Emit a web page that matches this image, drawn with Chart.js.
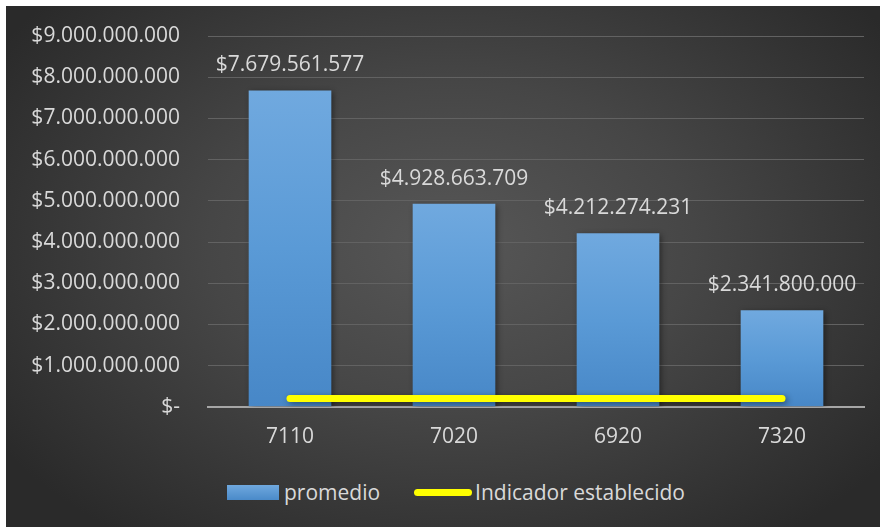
<!DOCTYPE html>
<html>
<head>
<meta charset="utf-8">
<script src="https://cdn.jsdelivr.net/npm/chart.js@4.4.1/dist/chart.umd.min.js"></script>
<style>
    html, body { margin: 0; padding: 0; background: #ffffff; }
    #wrap {
        position: absolute; left: 6px; top: 6px; width: 874px; height: 521px;
        background: radial-gradient(ellipse 62% 70% at 51% 46%, #575757 0%, #464646 45%, #2a2a2a 100%);
        font-family: "Open Sans", Lato, sans-serif;
    }
    #chartBox { position: absolute; left: 0; top: 0; width: 874px; height: 454px; }
    #legend {
        position: absolute; left: 221px; top: 469px; height: 34px;
        display: flex; align-items: center; color: #d9d9d9; font-size: 21px;
    }
    .swatch-bar {
        width: 52px; height: 15px; margin-right: 5px;
        background: linear-gradient(#6fa8de, #4a8ac9);
    }
    .swatch-line {
        width: 58px; height: 7px; border-radius: 4px; background: #ffff00;
        margin-left: 34px; margin-right: 3px;
    }
</style>
</head>
<body>
<div id="wrap">
    <div id="chartBox"><canvas id="chart"></canvas></div>
    <div id="legend">
        <span class="swatch-bar"></span><span id="legendBar"></span>
        <span class="swatch-line"></span><span id="legendLine"></span>
    </div>
</div>
<script>
const categories = ['7110', '7020', '6920', '7320'];
const promedio = [7679561577, 4928663709, 4212274231, 2341800000];
const indicador = [200000000, 200000000, 200000000, 200000000];
const seriesNames = ['promedio', 'Indicador establecido'];
const yTicks = { min: 0, max: 9000000000, step: 1000000000 };

const textColor = '#d9d9d9';
const fontFamily = '"Open Sans", Lato, sans-serif';
const fontSize = 21;

function formatPesos(value) {
    if (value === 0) return '$-';
    return '$' + Math.round(value).toString().replace(/\B(?=(\d{3})+(?!\d))/g, '.');
}

// labels with the value above each bar
const barValueLabels = {
    id: 'barValueLabels',
    afterDatasetsDraw(chart) {
        const ctx = chart.ctx;
        const meta = chart.getDatasetMeta(1);
        ctx.save();
        ctx.fillStyle = textColor;
        ctx.font = fontSize + 'px ' + fontFamily;
        ctx.textAlign = 'center';
        ctx.textBaseline = 'middle';
        meta.data.forEach((bar, i) => {
            ctx.fillText(formatPesos(promedio[i]), bar.x, bar.y - 25);
        });
        ctx.restore();
    }
};

// soft shadow under bars and line
const markShadow = {
    id: 'markShadow',
    beforeDatasetDraw(chart) {
        const ctx = chart.ctx;
        ctx.save();
        ctx.shadowColor = 'rgba(0, 0, 0, 0.45)';
        ctx.shadowBlur = 6;
        ctx.shadowOffsetX = 2;
        ctx.shadowOffsetY = 2;
    },
    afterDatasetDraw(chart) {
        chart.ctx.restore();
    }
};

function barGradient(context) {
    const chart = context.chart;
    if (!chart.chartArea || context.raw === undefined) return '#5b9bd5';
    const yScale = chart.scales.y;
    const top = yScale.getPixelForValue(context.raw);
    const bottom = yScale.getPixelForValue(0);
    const g = chart.ctx.createLinearGradient(0, top, 0, bottom);
    g.addColorStop(0, '#70a9df');
    g.addColorStop(0.5, '#5a9ad6');
    g.addColorStop(1, '#4787c7');
    return g;
}

document.getElementById('legendBar').textContent = seriesNames[0];
document.getElementById('legendLine').textContent = seriesNames[1];

const ctx = document.getElementById('chart').getContext('2d');
const chart = new Chart(ctx, {
    data: {
        labels: categories,
        datasets: [{
            type: 'line',
            label: seriesNames[1],
            data: indicador,
            borderColor: '#ffff00',
            borderWidth: 7,
            borderCapStyle: 'round',
            pointRadius: 0,
            order: 0
        }, {
            type: 'bar',
            label: seriesNames[0],
            data: promedio,
            backgroundColor: barGradient,
            categoryPercentage: 0.8,
            barPercentage: 0.63,
            order: 1
        }]
    },
    options: {
        responsive: true,
        maintainAspectRatio: false,
        animation: false,
        layout: { padding: { top: 30, right: 16, left: 0, bottom: 0 } },
        plugins: {
            legend: { display: false },
            tooltip: { enabled: false }
        },
        scales: {
            x: {
                grid: { display: false },
                border: { display: true, color: '#a6a6a6', width: 2 },
                ticks: {
                    color: textColor,
                    font: { family: fontFamily, size: fontSize },
                    padding: 10
                }
            },
            y: {
                min: yTicks.min,
                max: yTicks.max,
                afterFit(scale) { scale.width = 202; },
                border: { display: false },
                grid: {
                    color: '#626262',
                    lineWidth: 1,
                    drawTicks: true,
                    tickLength: 28,
                    tickColor: 'rgba(0,0,0,0)'
                },
                ticks: {
                    stepSize: yTicks.step,
                    color: textColor,
                    font: { family: fontFamily, size: fontSize },
                    padding: 0,
                    callback: (value) => formatPesos(value)
                }
            }
        }
    },
    plugins: [markShadow, barValueLabels]
});
</script>
</body>
</html>
